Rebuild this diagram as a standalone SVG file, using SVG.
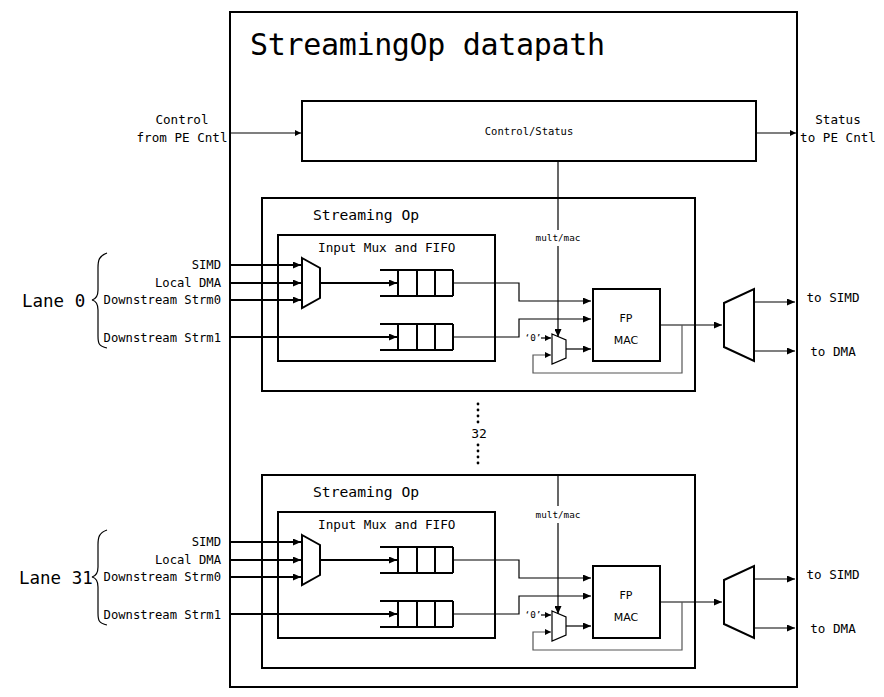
<svg xmlns="http://www.w3.org/2000/svg" width="884" height="697" viewBox="0 0 884 697">
<style>
text{font-family:"DejaVu Sans Mono","Liberation Mono",monospace;fill:#000}
.box{fill:none;stroke:#000;stroke-width:2}
.thin{fill:none;stroke:#000;stroke-width:1.2}
.thick{fill:none;stroke:#000;stroke-width:2}
.gray{fill:none;stroke:#555;stroke-width:1.2}
.lbl{font-size:12.6px}
.in{font-size:12.2px}
.sm{font-size:10.5px}
.xs{font-size:9.3px}
.sans{font-family:"DejaVu Sans","Liberation Sans",sans-serif;font-size:11px}
</style>
<defs>
<marker id="ah" markerUnits="userSpaceOnUse" markerWidth="9" markerHeight="7" refX="8" refY="3.5" orient="auto">
<path d="M0,0 L8,3.5 L0,7 Z" fill="#000"/>
</marker>
<marker id="ahs" markerUnits="userSpaceOnUse" markerWidth="7" markerHeight="6" refX="6" refY="3" orient="auto">
<path d="M0,0 L6,3 L0,6 Z" fill="#000"/>
</marker>
</defs>
<rect width="884" height="697" fill="#fff"/>

<g id="datapath">
<rect class="box" x="230" y="12" width="567" height="675"/>
<text x="250" y="55" font-size="30" textLength="355">StreamingOp datapath</text>
</g>

<g id="control-in">
<text class="lbl" x="182" y="124" text-anchor="middle">Control</text>
<text class="lbl" x="182" y="142" text-anchor="middle">from PE Cntl</text>
</g>
<g id="status-out">
<text class="lbl" x="838" y="124" text-anchor="middle">Status</text>
<text class="lbl" x="838" y="142" text-anchor="middle">to PE Cntl</text>
</g>
<g id="control-status">
<rect class="box" x="302" y="101" width="454" height="60"/>
<text class="sm" x="529" y="135" text-anchor="middle">Control/Status</text>
</g>

<g id="lane0">
<g id="lane0-label">
<text x="22" y="307" font-size="17.5">Lane 0</text>
<path class="thin" d="M107,253 C99,256 98,260 98,268 L98,290 C98,296 96,299 92,300 C96,301 98,304 98,310 L98,336 C98,344 99,346 107,348"/>
<text class="in" x="221" y="269" text-anchor="end">SIMD</text>
<text class="in" x="221" y="287" text-anchor="end">Local DMA</text>
<text class="in" x="221" y="304" text-anchor="end">Downstream Strm0</text>
<text class="in" x="221" y="342" text-anchor="end">Downstream Strm1</text>
</g>
<g id="streamingop0">
<rect class="box" x="262" y="198" width="433" height="193"/>
<text x="313" y="220" font-size="14.7">Streaming Op</text>
</g>
<g id="inputmuxfifo0">
<rect class="box" x="278" y="235" width="217" height="126"/>
<text x="318" y="252" font-size="12.7">Input Mux and FIFO</text>
</g>
<g id="inmux0"><polygon class="thick" points="302,258 320,268 320,298 302,308"/></g>
<g id="fifo0a"><path class="thick" d="M380,270 H453 M380,296 H453 M398,270 V296 M417,270 V296 M435,270 V296 M453,270 V296"/></g>
<g id="fifo0b"><path class="thick" d="M380,324 H453 M380,350 H453 M398,324 V350 M417,324 V350 M435,324 V350 M453,324 V350"/></g>
<g id="mac0">
<rect class="box" x="593" y="289" width="67" height="72"/>
<text class="sans" x="626" y="322" text-anchor="middle">FP</text>
<text class="sans" x="626" y="344" text-anchor="middle">MAC</text>
</g>
<g id="accmux0">
<polygon class="thin" points="552,334 566,340 566,358 552,364"/>
<text class="xs" x="533" y="341" text-anchor="middle">‘0’</text>
</g>
<g id="multmac0"><text class="xs" x="558" y="241" text-anchor="middle">mult/mac</text></g>
<g id="demux0"><polygon class="thick" points="724,303 754,289 754,361 724,347"/></g>
<g id="out0">
<text class="lbl" x="833" y="302" text-anchor="middle">to SIMD</text>
<text class="lbl" x="833" y="356" text-anchor="middle">to DMA</text>
</g>
</g>

<g id="lane31">
<g id="lane31-label">
<text x="19" y="584" font-size="17.5">Lane 31</text>
<path class="thin" d="M107,530 C99,533 98,537 98,545 L98,567 C98,573 96,576 92,577 C96,578 98,581 98,587 L98,613 C98,621 99,623 107,625"/>
<text class="in" x="221" y="546" text-anchor="end">SIMD</text>
<text class="in" x="221" y="564" text-anchor="end">Local DMA</text>
<text class="in" x="221" y="581" text-anchor="end">Downstream Strm0</text>
<text class="in" x="221" y="619" text-anchor="end">Downstream Strm1</text>
</g>
<g transform="translate(0,277)">
<g id="streamingop31">
<rect class="box" x="262" y="198" width="433" height="193"/>
<text x="313" y="220" font-size="14.7">Streaming Op</text>
</g>
<g id="inputmuxfifo31">
<rect class="box" x="278" y="235" width="217" height="126"/>
<text x="318" y="252" font-size="12.7">Input Mux and FIFO</text>
</g>
<g id="inmux31"><polygon class="thick" points="302,258 320,268 320,298 302,308"/></g>
<g id="fifo31a"><path class="thick" d="M380,270 H453 M380,296 H453 M398,270 V296 M417,270 V296 M435,270 V296 M453,270 V296"/></g>
<g id="fifo31b"><path class="thick" d="M380,324 H453 M380,350 H453 M398,324 V350 M417,324 V350 M435,324 V350 M453,324 V350"/></g>
<g id="mac31">
<rect class="box" x="593" y="289" width="67" height="72"/>
<text class="sans" x="626" y="322" text-anchor="middle">FP</text>
<text class="sans" x="626" y="344" text-anchor="middle">MAC</text>
</g>
<g id="accmux31">
<polygon class="thin" points="552,334 566,340 566,358 552,364"/>
<text class="xs" x="533" y="341" text-anchor="middle">‘0’</text>
</g>
<g id="multmac31"><text class="xs" x="558" y="241" text-anchor="middle">mult/mac</text></g>
<g id="demux31"><polygon class="thick" points="724,303 754,289 754,361 724,347"/></g>
<g id="out31">
<text class="lbl" x="833" y="302" text-anchor="middle">to SIMD</text>
<text class="lbl" x="833" y="356" text-anchor="middle">to DMA</text>
</g>
</g>
</g>

<g id="ellipsis">
<g fill="#000">
<circle cx="478" cy="404" r="1.4"/><circle cx="478" cy="410" r="1.4"/><circle cx="478" cy="416" r="1.4"/><circle cx="478" cy="422" r="1.4"/>
<circle cx="478" cy="445" r="1.4"/><circle cx="478" cy="451" r="1.4"/><circle cx="478" cy="457" r="1.4"/><circle cx="478" cy="463" r="1.4"/>
</g>
<text x="479" y="438" font-size="13" text-anchor="middle" font-family="DejaVu Sans, sans-serif">32</text>
</g>

<g id="connectors">
<line class="thin" x1="230" y1="133" x2="301" y2="133" marker-end="url(#ahs)"/>
<line class="thin" x1="756" y1="133" x2="796" y2="133" marker-end="url(#ahs)"/>
<line class="thin" x1="558" y1="161" x2="558" y2="230"/>
<g id="lane0-conn">
<line class="thick" x1="230" y1="265" x2="301" y2="265" marker-end="url(#ah)"/>
<line class="thick" x1="230" y1="283" x2="301" y2="283" marker-end="url(#ah)"/>
<line class="thick" x1="230" y1="300" x2="301" y2="300" marker-end="url(#ah)"/>
<line class="thick" x1="230" y1="337" x2="397" y2="337" marker-end="url(#ah)"/>
<line class="thick" x1="320" y1="283" x2="397" y2="283" marker-end="url(#ah)"/>
<polyline class="thin" points="453,283 519,283 519,301 591,301" marker-end="url(#ah)"/>
<polyline class="thin" points="453,337 519,337 519,319 591,319" marker-end="url(#ah)"/>
<line class="thin" x1="558" y1="246" x2="558" y2="337" marker-end="url(#ah)"/>
<line class="thin" x1="541" y1="338" x2="551" y2="338" marker-end="url(#ahs)"/>
<line class="thin" x1="566" y1="349" x2="591" y2="349" marker-end="url(#ah)"/>
<line class="thin" x1="660" y1="325" x2="722" y2="325" marker-end="url(#ah)"/>
<polyline class="gray" points="682,325 682,373 533,373 533,355 551,355" marker-end="url(#ahs)"/>
<line class="thin" x1="754" y1="302" x2="795" y2="302" marker-end="url(#ah)"/>
<line class="thin" x1="754" y1="351" x2="795" y2="351" marker-end="url(#ah)"/>
</g>
<g id="lane31-conn" transform="translate(0,277)">
<line class="thin" x1="558" y1="199" x2="558" y2="229"/>
<line class="thick" x1="230" y1="265" x2="301" y2="265" marker-end="url(#ah)"/>
<line class="thick" x1="230" y1="283" x2="301" y2="283" marker-end="url(#ah)"/>
<line class="thick" x1="230" y1="300" x2="301" y2="300" marker-end="url(#ah)"/>
<line class="thick" x1="230" y1="337" x2="397" y2="337" marker-end="url(#ah)"/>
<line class="thick" x1="320" y1="283" x2="397" y2="283" marker-end="url(#ah)"/>
<polyline class="thin" points="453,283 519,283 519,301 591,301" marker-end="url(#ah)"/>
<polyline class="thin" points="453,337 519,337 519,319 591,319" marker-end="url(#ah)"/>
<line class="thin" x1="558" y1="246" x2="558" y2="337" marker-end="url(#ah)"/>
<line class="thin" x1="541" y1="338" x2="551" y2="338" marker-end="url(#ahs)"/>
<line class="thin" x1="566" y1="349" x2="591" y2="349" marker-end="url(#ah)"/>
<line class="thin" x1="660" y1="325" x2="722" y2="325" marker-end="url(#ah)"/>
<polyline class="gray" points="682,325 682,373 533,373 533,355 551,355" marker-end="url(#ahs)"/>
<line class="thin" x1="754" y1="302" x2="795" y2="302" marker-end="url(#ah)"/>
<line class="thin" x1="754" y1="351" x2="795" y2="351" marker-end="url(#ah)"/>
</g>
</g>
</svg>
